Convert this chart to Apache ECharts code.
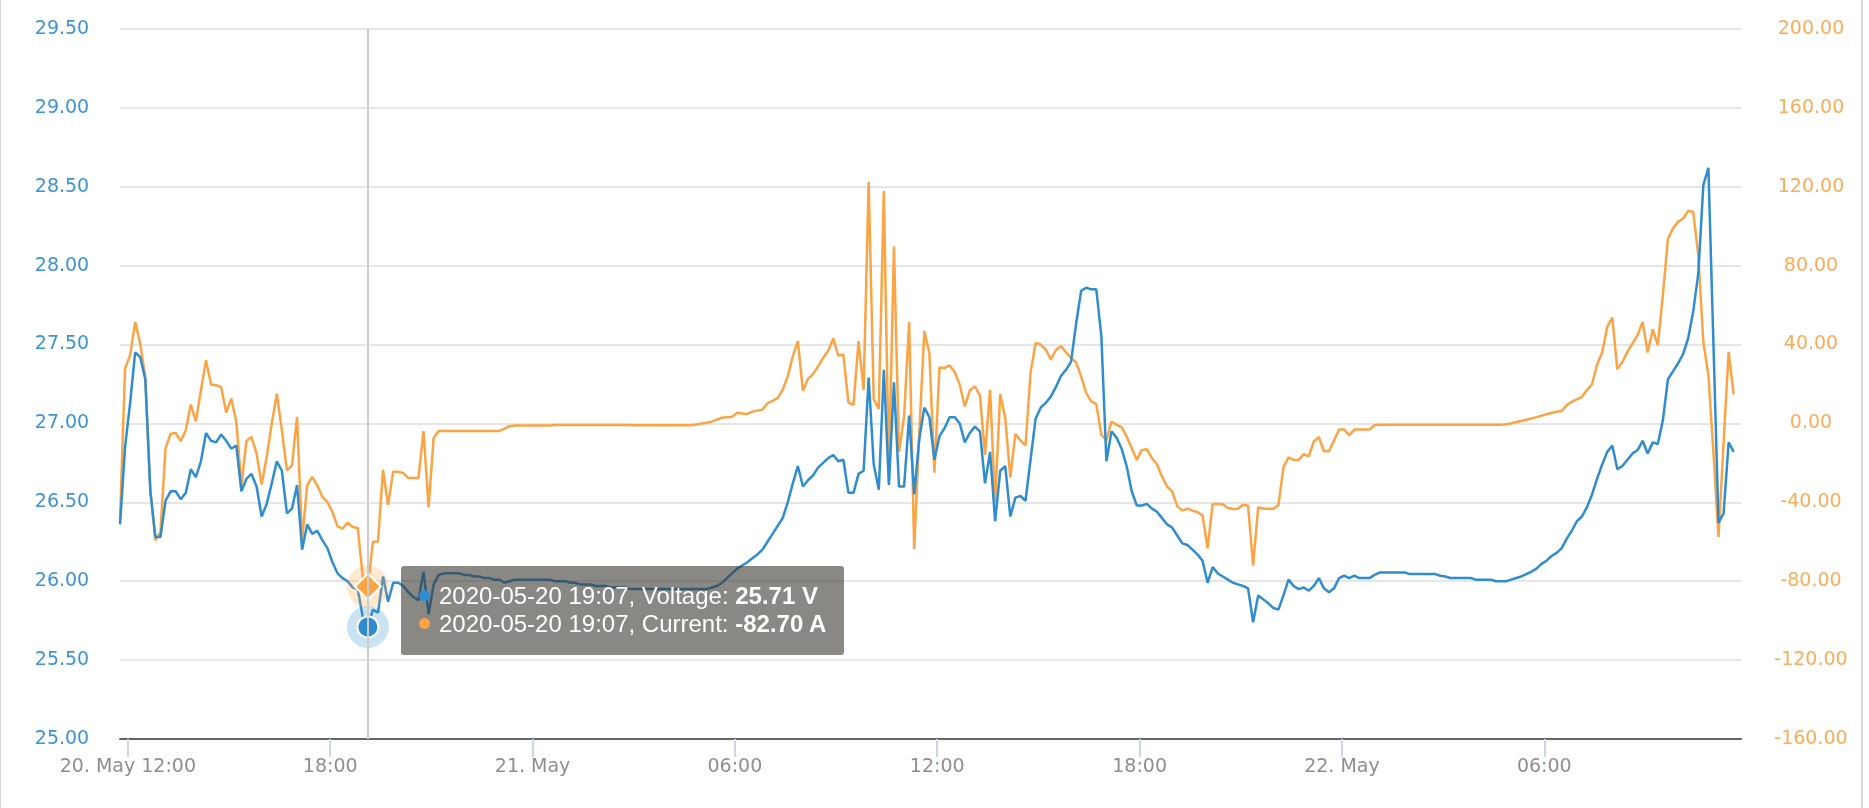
<!DOCTYPE html>
<html>
<head>
<meta charset="utf-8">
<script src="https://cdn.jsdelivr.net/npm/echarts@6/dist/echarts.min.js"></script>
<style>
  html, body { margin: 0; padding: 0; background: #ffffff; }
  #chart { position: absolute; left: 0; top: 0; width: 1869px; height: 808px; }
  .bl { position: absolute; left: 0; top: 0; width: 1px; height: 808px; background: #d6d6d6; }
  .br { position: absolute; left: 1861px; top: 0; width: 2px; height: 808px; background: #d6d6d6; }
  .tt { font-family: 'Liberation Sans', Arial, sans-serif; font-size: 24px; line-height: 28px; color: #ffffff; white-space: nowrap; }
  .tt b { font-weight: bold; }
  .dot { display: inline-block; width: 11px; height: 11px; border-radius: 6px; margin-right: 9px; vertical-align: middle; position: relative; top: -2px; }
</style>
</head>
<body>
<div id="chart"></div>
<div class="bl"></div>
<div class="br"></div>
<script>
// Sampling timeline: minutes since 2020-05-20 00:00, one sample every 9 minutes
const startMinute = 706;
const stepMinutes = 9;

// Battery voltage (V)
const voltage = [
  26.36,26.85,27.13,27.45,27.42,27.28,26.57,26.28,26.28,26.51,
  26.57,26.57,26.52,26.56,26.71,26.66,26.76,26.94,26.89,26.88,
  26.93,26.89,26.84,26.86,26.57,26.65,26.68,26.60,26.41,26.49,
  26.62,26.76,26.70,26.43,26.46,26.61,26.20,26.36,26.30,26.32,
  26.26,26.21,26.12,26.05,26.02,26.00,25.96,25.95,25.77,25.71,
  25.82,25.80,26.03,25.87,25.99,25.99,25.97,25.93,25.90,25.88,
  26.06,25.79,25.98,26.04,26.05,26.05,26.05,26.05,26.04,26.04,
  26.03,26.03,26.02,26.02,26.01,26.01,25.99,26.00,26.01,26.01,
  26.01,26.01,26.01,26.01,26.01,26.01,26.00,26.00,26.00,25.99,
  25.99,25.98,25.98,25.98,25.97,25.97,25.97,25.96,25.96,25.96,
  25.96,25.95,25.95,25.95,25.95,25.95,25.95,25.95,25.95,25.95,
  25.95,25.95,25.95,25.95,25.95,25.95,25.95,25.96,25.97,25.99,
  26.02,26.05,26.08,26.10,26.12,26.145,26.17,26.20,26.25,26.30,
  26.35,26.40,26.50,26.62,26.73,26.60,26.64,26.67,26.72,26.75,
  26.78,26.80,26.76,26.77,26.56,26.56,26.68,26.70,27.29,26.74,
  26.58,27.34,26.61,27.26,26.60,26.60,27.05,26.55,26.90,27.10,
  27.04,26.77,26.92,26.97,27.04,27.04,27.00,26.88,26.94,26.98,
  26.95,26.62,26.82,26.38,26.70,26.73,26.41,26.53,26.54,26.51,
  26.77,27.03,27.10,27.13,27.17,27.23,27.30,27.34,27.39,27.63,
  27.84,27.86,27.85,27.85,27.55,26.76,26.95,26.91,26.84,26.73,
  26.57,26.48,26.48,26.49,26.46,26.44,26.40,26.36,26.34,26.29,
  26.24,26.23,26.20,26.17,26.13,25.99,26.09,26.05,26.03,26.01,
  25.99,25.98,25.97,25.955,25.74,25.91,25.885,25.86,25.83,25.82,
  25.91,26.01,25.97,25.95,25.96,25.94,25.97,26.02,25.955,25.93,
  25.955,26.02,26.035,26.02,26.035,26.02,26.02,26.02,26.04,26.055,
  26.055,26.055,26.055,26.055,26.055,26.045,26.045,26.045,26.045,26.045,
  26.045,26.035,26.03,26.02,26.02,26.02,26.02,26.02,26.01,26.01,
  26.01,26.01,26.00,26.00,26.00,26.01,26.02,26.03,26.045,26.06,
  26.08,26.11,26.13,26.16,26.18,26.21,26.27,26.32,26.38,26.41,
  26.47,26.55,26.65,26.74,26.82,26.86,26.71,26.73,26.77,26.81,
  26.83,26.89,26.81,26.88,26.87,27.02,27.28,27.33,27.38,27.44,
  27.54,27.71,27.95,28.51,28.62,27.50,26.37,26.43,26.88,26.82
];

// Battery current (A)
const current = [
  -49.1,27.8,34.6,51.5,40.5,23.6,-33.9,-59.3,-55.0,-12.8,
  -5.2,-4.8,-9.0,-3.5,9.6,1.1,16.8,32.1,19.7,19.4,
  18.5,5.5,12.6,0.8,-31.4,-8.9,-6.8,-15.3,-31.0,-17.0,
  -0.1,15.1,-3.5,-23.8,-21.2,3.3,-59.3,-31.4,-27.1,-31.4,
  -37.3,-39.8,-44.9,-52.2,-53.3,-50.3,-52.5,-53.0,-78.0,-82.7,
  -60.0,-60.0,-23.6,-41.3,-24.5,-24.5,-25.2,-27.6,-27.6,-27.6,
  -3.9,-42.4,-7.4,-3.8,-3.8,-3.8,-3.8,-3.8,-3.8,-3.8,
  -3.8,-3.8,-3.8,-3.8,-3.8,-3.8,-2.6,-1.4,-1.0,-1.0,
  -1.0,-1.0,-1.0,-1.0,-1.0,-1.0,-0.8,-0.8,-0.8,-0.8,
  -0.8,-0.8,-0.8,-0.8,-0.8,-0.8,-0.8,-0.8,-0.8,-0.8,
  -0.8,-0.9,-0.9,-0.9,-0.9,-0.9,-0.9,-0.9,-0.9,-0.9,
  -0.9,-0.9,-0.9,-0.9,-0.5,0.0,0.4,0.9,1.9,2.9,
  3.2,3.4,5.4,5.0,4.8,6.0,6.5,7.0,10.2,11.4,
  12.8,17.0,23.8,34.0,41.7,16.5,22.6,25.0,28.9,33.2,
  36.9,43.1,34.4,34.9,10.6,9.4,41.7,17.0,122.5,12.3,
  7.3,117.8,-25.0,89.7,-14.5,3.4,51.4,-63.8,-5.0,46.8,
  35.7,-25.0,28.4,28.1,29.4,26.1,19.7,8.6,16.8,18.8,
  14.1,-15.9,17.1,-40.2,14.9,2.7,-27.3,-5.3,-8.6,-11.2,
  25.6,40.8,40.0,37.5,32.4,37.1,39.2,36.1,33.2,31.0,
  23.9,15.4,11.2,9.8,-5.8,-8.6,1.0,-0.7,-1.9,-6.6,
  -12.5,-18.5,-13.4,-13.1,-17.6,-20.7,-27.0,-32.0,-34.6,-41.9,
  -44.2,-43.2,-44.2,-44.9,-46.7,-63.3,-40.8,-40.9,-41.0,-42.9,
  -43.4,-43.3,-41.2,-41.7,-72.1,-42.6,-43.1,-43.3,-43.3,-41.4,
  -22.3,-17.2,-18.5,-18.5,-15.5,-16.7,-9.1,-6.9,-14.1,-14.1,
  -8.6,-3.1,-3.1,-6.0,-3.1,-3.1,-3.1,-3.1,-0.9,-0.6,
  -0.6,-0.6,-0.6,-0.6,-0.6,-0.6,-0.6,-0.6,-0.6,-0.6,
  -0.6,-0.6,-0.6,-0.6,-0.6,-0.6,-0.6,-0.6,-0.6,-0.6,
  -0.6,-0.6,-0.6,-0.6,-0.4,0.0,0.7,1.2,1.9,2.5,
  3.2,3.9,4.7,5.3,5.9,6.3,9.3,11.0,12.2,13.5,
  16.9,19.9,29.9,36.0,49.0,53.7,27.4,31.3,36.3,40.6,
  44.8,51.5,36.0,47.7,39.7,65.1,93.5,98.9,102.2,103.9,
  107.7,107.3,85.3,41.4,24.5,-15.0,-57.5,-10.0,36.3,14.7
];

// X axis ticks (minutes since 2020-05-20 00:00) and their labels
const tickMinutes = [720, 1080, 1440, 1800, 2160, 2520, 2880, 3240];
const tickLabels = ['20. May 12:00', '18:00', '21. May', '06:00', '12:00', '18:00', '22. May', '06:00'];

// Axis ranges
const xRange = [706, 3590];
const voltTicks = { min: 25, max: 29.5, step: 0.5 };
const currTicks = { min: -160, max: 200, step: 40 };

// Hovered sample
const hoverIndex = 49;

const times = voltage.map((_, i) => startMinute + i * stepMinutes);
const voltData = times.map((t, i) => [t, voltage[i]]);
const currData = times.map((t, i) => [t, current[i]]);

const BLUE = '#2f8dcf';
const ORANGE = '#fba444';

function pad(n) { return (n < 10 ? '0' : '') + n; }
function stamp(m) {
  const day = 20 + Math.floor(m / 1440);
  const r = m % 1440;
  return '2020-05-' + pad(day) + ' ' + pad(Math.floor(r / 60)) + ':' + pad(r % 60);
}

const chart = echarts.init(document.getElementById('chart'), null, { renderer: 'canvas' });

const axisFont = { fontFamily: 'DejaVu Sans', fontSize: 19 };

chart.setOption({
  animation: false,
  backgroundColor: 'transparent',
  grid: { left: 120, right: 128, top: 29, bottom: 69, containLabel: false, outerBoundsMode: 'none' },
  tooltip: {
    trigger: 'axis',
    triggerOn: 'none',
    alwaysShowContent: true,
    showContent: true,
    transitionDuration: 0,
    backgroundColor: 'rgba(60,57,50,0.6)',
    borderWidth: 0,
    borderRadius: 3,
    padding: [16, 18, 17, 18],
    extraCssText: 'box-shadow:none;',
    textStyle: { color: '#ffffff', fontFamily: 'Liberation Sans', fontSize: 24, lineHeight: 28 },
    position: function () { return [401, 566]; },
    axisPointer: {
      type: 'line',
      lineStyle: { color: '#cccccc', width: 2, type: 'solid' },
      label: { show: false }
    },
    formatter: function (params) {
      return params.map(function (p) {
        const isV = p.seriesIndex === 0;
        const col = isV ? BLUE : ORANGE;
        const name = isV ? 'Voltage' : 'Current';
        const unit = isV ? ' V' : ' A';
        return '<div class="tt">' +
          '<span class="dot" style="background:' + col + ';"></span>' +
          stamp(p.value[0]) + ', ' + name + ': <b>' + p.value[1].toFixed(2) + unit + '</b></div>';
      }).join('');
    }
  },
  xAxis: {
    type: 'value',
    min: xRange[0],
    max: xRange[1],
    splitLine: { show: false },
    axisLine: { show: true, onZero: false, lineStyle: { color: '#666666', width: 2 } },
    axisTick: {
      show: true,
      customValues: tickMinutes,
      length: 18,
      lineStyle: { color: '#ccd6eb', width: 2 }
    },
    axisLabel: {
      show: true,
      customValues: tickMinutes,
      margin: 19,
      color: '#8e8e8e',
      fontFamily: axisFont.fontFamily,
      fontSize: axisFont.fontSize,
      formatter: function (v) {
        const k = tickMinutes.indexOf(Math.round(v));
        return k >= 0 ? tickLabels[k] : '';
      }
    }
  },
  yAxis: [
    {
      type: 'value',
      position: 'left',
      min: voltTicks.min,
      max: voltTicks.max,
      interval: voltTicks.step,
      axisLine: { show: false },
      axisTick: { show: false },
      splitLine: { show: true, lineStyle: { color: '#e6e6e6', width: 2 } },
      axisLabel: {
        color: '#3d93d3',
        align: 'center',
        margin: 58,
        padding: [5, 0, 0, 0],
        fontFamily: axisFont.fontFamily,
        fontSize: axisFont.fontSize,
        formatter: function (v) { return v.toFixed(2); }
      }
    },
    {
      type: 'value',
      position: 'right',
      min: currTicks.min,
      max: currTicks.max,
      interval: currTicks.step,
      axisLine: { show: false },
      axisTick: { show: false },
      splitLine: { show: false },
      axisLabel: {
        color: '#fbac58',
        align: 'center',
        margin: 70,
        padding: [5, 0, 0, 0],
        fontFamily: axisFont.fontFamily,
        fontSize: axisFont.fontSize,
        formatter: function (v) { return v.toFixed(2); }
      }
    }
  ],
  series: [
    {
      name: 'Voltage',
      type: 'line',
      yAxisIndex: 0,
      data: voltData,
      symbol: 'none',
      lineStyle: { color: BLUE, width: 2.5 },
      itemStyle: { color: BLUE },
      emphasis: { disabled: true },
      z: 3,
      markPoint: {
        silent: true,
        animation: false,
        label: { show: false },
        data: [
          { coord: voltData[hoverIndex], symbol: 'circle', symbolSize: 42, itemStyle: { color: 'rgba(47,141,207,0.25)', borderWidth: 0 } },
          { coord: voltData[hoverIndex], symbol: 'circle', symbolSize: 21, itemStyle: { color: BLUE, borderColor: '#ffffff', borderWidth: 2 } }
        ]
      }
    },
    {
      name: 'Current',
      type: 'line',
      yAxisIndex: 1,
      data: currData,
      symbol: 'none',
      lineStyle: { color: ORANGE, width: 2.5 },
      itemStyle: { color: ORANGE },
      emphasis: { disabled: true },
      z: 2,
      markPoint: {
        silent: true,
        animation: false,
        label: { show: false },
        data: [
          { coord: currData[hoverIndex], symbol: 'circle', symbolSize: 42, itemStyle: { color: 'rgba(251,164,68,0.25)', borderWidth: 0 } },
          { coord: currData[hoverIndex], symbol: 'diamond', symbolSize: 26, itemStyle: { color: ORANGE, borderColor: '#ffffff', borderWidth: 2 } }
        ]
      }
    }
  ]
});

function showHover() {
  chart.dispatchAction({ type: 'showTip', seriesIndex: 0, dataIndex: hoverIndex });
}
showHover();
setTimeout(showHover, 30);
</script>
</body>
</html>
